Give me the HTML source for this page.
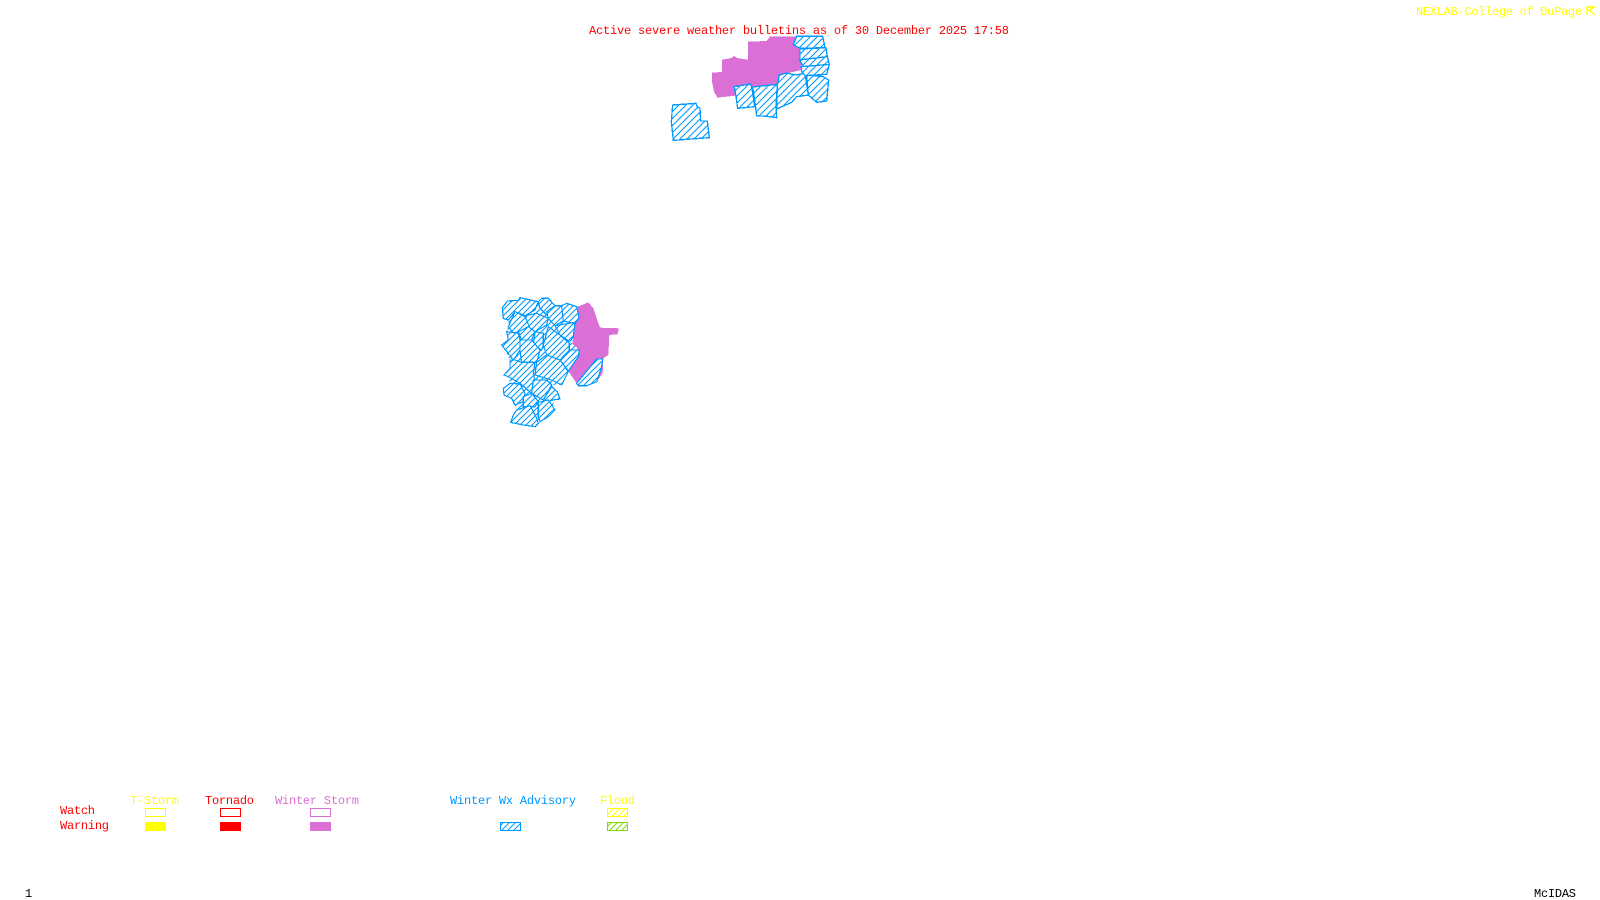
<!DOCTYPE html>
<html>
<head>
<meta charset="utf-8">
<style>
html,body{margin:0;padding:0;background:#fff;width:1600px;height:900px;overflow:hidden}
svg{display:block}
text{font-family:"Liberation Mono",monospace;font-size:12px}
</style>
</head>
<body>
<svg width="1600" height="900" viewBox="0 0 1600 900" xmlns="http://www.w3.org/2000/svg">
<defs>
<pattern id="h1" patternUnits="userSpaceOnUse" width="21" height="21">
<rect width="21" height="21" fill="#fff"/>
<path d="M-6 6L6 -6M0 21L21 0M15 27L27 15" stroke="#0099ff" stroke-width="3.2" fill="none"/>
</pattern>
<pattern id="h2" patternUnits="userSpaceOnUse" width="18" height="18">
<rect width="18" height="18" fill="#fff"/>
<path d="M-6 6L6 -6M0 18L18 0M12 24L24 12" stroke="#0099ff" stroke-width="3.2" fill="none"/>
</pattern>
<pattern id="lb" patternUnits="userSpaceOnUse" width="6" height="6"><path d="M-1 1L1 -1M0 6L6 0M5 7L7 5" stroke="#0099ff" stroke-width="1" fill="none"/></pattern>
<pattern id="ly" patternUnits="userSpaceOnUse" width="6" height="6"><path d="M-1 1L1 -1M0 6L6 0M5 7L7 5" stroke="#ffff00" stroke-width="1" fill="none"/></pattern>
<pattern id="lg" patternUnits="userSpaceOnUse" width="6" height="6"><path d="M-1 1L1 -1M0 6L6 0M5 7L7 5" stroke="#7fdd00" stroke-width="1" fill="none"/></pattern>
</defs>

<!-- north cluster -->
<g transform="translate(640 25) scale(0.33333)" shape-rendering="crispEdges">
<polygon fill="#da70d6" points="216,143 246,141 246,104 275,99 282,92 290,99 324,104 324,50 380,48 390,34 470,34 484,70 485,135 440,145 416,150 414,176 335,186 283,185 285,212 232,218 222,200 216,170"/>
<g fill="url(#h1)" stroke="#0099ff" stroke-width="4">
<polygon points="98,240 168,235 172,246 180,250 182,288 202,288 208,338 100,346 94,290"/>
<polygon points="283,185 332,177 336,190 344,245 293,250 288,215"/>
<polygon points="338,186 412,178 408,240 410,278 382,274 350,272 346,240"/>
<polygon points="418,150 440,144 465,150 495,145 505,210 470,215 455,232 410,252 412,180"/>
<polygon points="500,150 550,155 566,165 560,228 530,232 505,210"/>
<polygon points="470,34 548,34 555,68 480,70 460,60"/>
<polygon points="480,72 558,68 562,95 480,105"/>
<polygon points="478,105 562,95 568,118 490,125"/>
<polygon points="484,125 568,118 560,148 495,152 485,140"/>
</g>
</g>

<!-- south cluster -->
<g transform="translate(480 285) scale(0.33333)" shape-rendering="crispEdges">
<polygon fill="#da70d6" points="293,65 325,52 340,70 350,100 360,128 417,130 412,148 388,150 385,210 370,220 368,265 350,290 290,295 265,258 275,190 285,120"/>
<polygon fill="url(#h2)" points="67,68 82,48 115,46 120,38 175,50 185,40 205,40 225,62 245,62 260,55 290,65 297,100 285,115 280,155 270,170 298,195 295,215 265,258 245,300 215,300 232,320 240,342 218,345 225,375 205,395 175,415 165,425 130,420 92,412 100,390 110,375 105,360 95,340 72,330 70,310 90,295 85,275 72,270 90,250 90,225 65,180 85,165 80,140 85,125 85,105 70,100"/>
<g fill="url(#h2)" stroke="#0099ff" stroke-width="3.6">
<polygon points="67,68 82,48 115,46 120,38 175,50 165,75 135,92 105,80 85,105 70,100"/>
<polygon points="175,50 185,40 205,40 225,62 200,90 180,70"/>
<polygon points="135,92 170,85 205,100 200,120 165,140 145,125"/>
<polygon points="105,80 135,95 148,125 115,140 100,145 85,125"/>
<polygon points="200,80 225,62 245,62 250,108 225,122 205,100"/>
<polygon points="245,62 260,55 290,65 297,100 285,115 250,108"/>
<polygon points="225,122 285,112 280,155 270,170 240,150"/>
<polygon points="205,125 240,150 268,175 268,200 240,225 200,210 190,180"/>
<polygon points="165,140 190,145 190,180 185,195 160,180"/>
<polygon points="115,140 145,125 165,140 155,165 125,165"/>
<polygon points="80,140 115,145 120,165 120,195 100,225 65,180 85,165"/>
<polygon points="120,165 155,165 180,195 170,232 125,232 120,200"/>
<polygon points="268,195 298,195 295,215 265,258 240,225"/>
<polygon points="90,225 105,225 125,232 165,232 160,265 165,290 155,325 120,295 85,275 72,270 90,250"/>
<polygon points="170,232 200,210 240,225 265,260 245,300 215,285 165,270"/>
<polygon points="290,295 350,222 368,222 365,245 350,290 320,302 295,302"/>
<polygon points="70,310 90,295 120,297 135,325 130,350 105,360 95,340 72,330"/>
<polygon points="160,285 200,285 215,300 190,345 155,325"/>
<polygon points="215,305 232,320 240,342 218,345 205,350 190,345"/>
<polygon points="130,335 155,325 175,350 165,365 130,365"/>
<polygon points="175,352 205,345 225,375 205,395 180,410 175,395"/>
<polygon points="110,375 150,362 168,395 175,415 165,425 130,420 92,412 100,390"/>
</g>
</g>

<!-- header text -->
<text x="589" y="34" fill="#ff0000" textLength="420" lengthAdjust="spacing">Active severe weather bulletins as of 30 December 2025 17:58</text>
<text x="1416" y="15" fill="#ffff00" textLength="166" lengthAdjust="spacing">NEXLAB-College of DuPage</text>
<g fill="none" stroke="#ffff00" stroke-width="1.4">
<path d="M1595 7H1587V15M1588 11L1594 7M1589 10L1595 15"/>
</g>

<!-- legend labels -->
<text x="130" y="804" fill="#ffff00" textLength="49">T-Storm</text>
<text x="205" y="804" fill="#ff0000" textLength="49">Tornado</text>
<text x="275" y="804" fill="#da70d6" textLength="84">Winter Storm</text>
<text x="450" y="804" fill="#0099ff" textLength="126">Winter Wx Advisory</text>
<text x="600" y="804" fill="#ffff00" textLength="35">Flood</text>
<text x="60" y="814" fill="#ff0000" textLength="35">Watch</text>
<text x="60" y="829" fill="#ff0000" textLength="49">Warning</text>

<!-- legend boxes -->
<rect x="145.5" y="808.5" width="20" height="8" fill="#fff" stroke="#ffff00"/>
<rect x="220.5" y="808.5" width="20" height="8" fill="#fff" stroke="#ff0000"/>
<rect x="310.5" y="808.5" width="20" height="8" fill="#fff" stroke="#da70d6"/>
<rect x="607.5" y="808.5" width="20" height="8" fill="url(#ly)" stroke="#ffff00"/>
<rect x="145" y="822" width="21" height="9" fill="#ffff00"/>
<rect x="220" y="822" width="21" height="9" fill="#ff0000"/>
<rect x="310" y="822" width="21" height="9" fill="#da70d6"/>
<rect x="500.5" y="822.5" width="20" height="8" fill="url(#lb)" stroke="#0099ff"/>
<rect x="607.5" y="822.5" width="20" height="8" fill="url(#lg)" stroke="#7fdd00"/>

<!-- footer -->
<text x="25" y="897" fill="#000">1</text>
<text x="1534" y="897" fill="#000" textLength="42">McIDAS</text>
</svg>
</body>
</html>
